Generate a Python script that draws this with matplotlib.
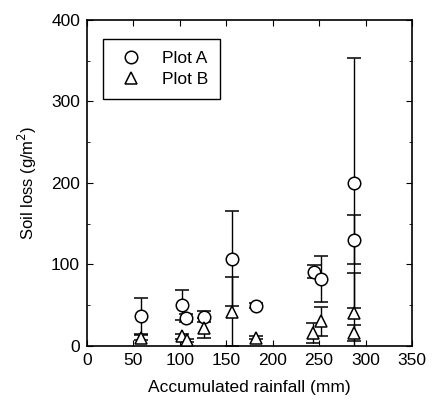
import matplotlib
matplotlib.use('Agg')
import matplotlib.pyplot as plt

plt.rcParams['font.family'] = ['Liberation Sans', 'DejaVu Sans']

# Plot A (circles)
a_rain = [58, 102, 107, 126, 156, 182, 244, 252, 288, 288]
a_loss = [37, 50, 34, 36, 107, 49, 91, 82, 200, 130]
a_err = [22, 18, 5, 7, 58, 3, 8, 28, 153, 30]

# Plot B (triangles)
b_rain = [58, 102, 108, 126, 156, 182, 243, 252, 288, 288]
b_loss = [10, 12, 7, 22, 42, 10, 16, 30, 40, 16]
b_err = [3, 3, 2, 12, 42, 2, 12, 18, 49, 10]

x_ticks = [0, 50, 100, 150, 200, 250, 300, 350]
y_ticks = [0, 100, 200, 300, 400]

fig = plt.figure(figsize=(4.35, 4.05), dpi=100)
ax = fig.add_axes([0.2, 0.146, 0.747, 0.805])

ax.errorbar(a_rain, a_loss, yerr=a_err, fmt='o', mfc='white', mec='black',
            ecolor='black', ms=9, capsize=5, elinewidth=1, mew=1.1,
            label='Plot A', zorder=3)
ax.errorbar(b_rain, b_loss, yerr=b_err, fmt='^', mfc='white', mec='black',
            ecolor='black', ms=9, capsize=5, elinewidth=1, mew=1.1,
            label='Plot B', zorder=3)

ax.set_xlim(0, 350)
ax.set_ylim(0, 400)
ax.set_xticks(x_ticks)
ax.set_yticks(y_ticks)
ax.set_yticks(range(0, 401, 50), minor=True)
ax.tick_params(direction='in', top=True, right=True, labelsize=12.5,
               length=4, pad=5)
ax.tick_params(which='minor', direction='in', right=True, length=2)
for s in ax.spines.values():
    s.set_linewidth(1.2)

ax.set_xlabel('Accumulated rainfall (mm)', fontsize=12.5, labelpad=9)
ax.set_ylabel('Soil loss (g/m$^2$)', fontsize=12, labelpad=9)

handles, labels = ax.get_legend_handles_labels()
handles = [h[0] for h in handles]
leg = ax.legend(handles, labels, loc='upper left', fontsize=12.5,
                fancybox=False, edgecolor='black', framealpha=1,
                bbox_to_anchor=(0.022, 0.968), handletextpad=0.9,
                borderpad=0.7, labelspacing=0.3, handlelength=1.8)
leg.get_frame().set_linewidth(1)

fig.savefig('out.png', dpi=100)
